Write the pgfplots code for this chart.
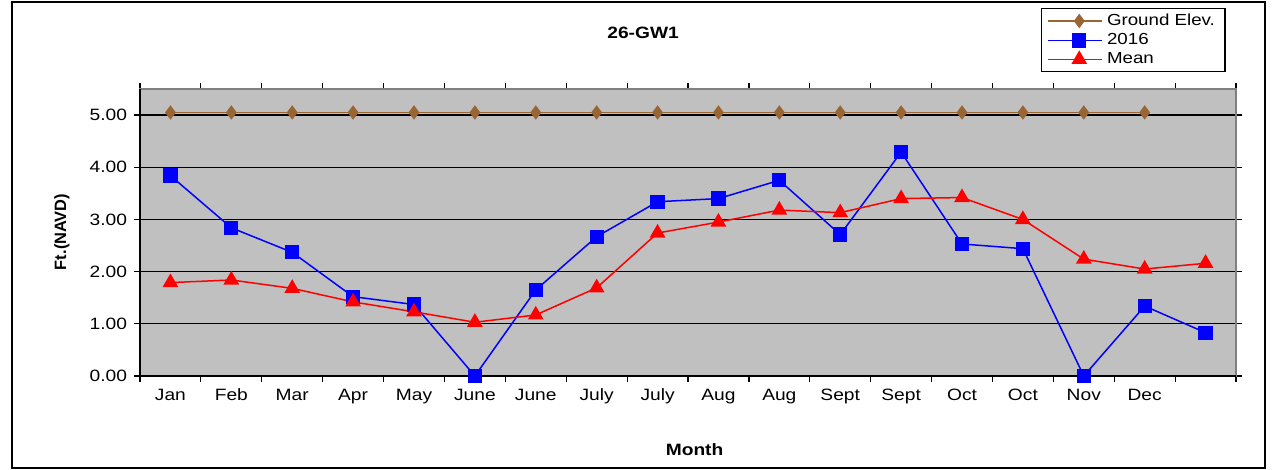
\documentclass[border=0pt]{standalone}
\usepackage{pgfplots}
\pgfplotsset{compat=1.18}
\usepackage{fontspec}
\setmainfont[FakeStretch=1.17]{Liberation Sans}
\newfontfamily\plainfont{Liberation Sans}
\definecolor{silver}{RGB}{192,192,192}
\definecolor{ground}{RGB}{153,102,51}
\begin{document}
\begin{tikzpicture}[x=1pt,y=1pt]
\path (0,0) rectangle (636,235);
\draw[line width=0.9pt] (6,1) rectangle (632.5,234);
\begin{axis}[
  at={(70pt,47pt)}, anchor=south west,
  scale only axis, width=548pt, height=143.5pt,
  xmin=-0.5, xmax=17.5, ymin=0, ymax=5.5,
  clip=false,
  font=\fontsize{8.2}{9.8}\selectfont,
  /pgf/number format/assume math mode=true,
  axis background/.style={fill=silver},
  axis line style={draw=gray, line width=0.8pt},
  xtick={0,...,17},
  xticklabels={Jan,Feb,Mar,Apr,May,June,June,July,July,Aug,Aug,Sept,Sept,Oct,Oct,Nov,Dec,{}},
  major x tick style={draw=none},
  minor xtick={-0.5,0.5,...,17.5},
  ytick={0,1,...,5},
  tick align=outside,
  major tick length=3pt, minor tick length=3pt,
  tick style={black, line width=0.6pt},
  yticklabel style={/pgf/number format/.cd, fixed, fixed zerofill, precision=2, assume math mode=true},
  ymajorgrids,
  major y grid style={black, line width=0.6pt},
  title={\textbf{26-GW1}},
  title style={at={(axis description cs:0.459,1.155)}, anchor=center},
  xlabel={\textbf{Month}},
  xlabel style={at={(axis description cs:0.506,-0.258)}, anchor=center},
  ylabel={\plainfont\bfseries Ft.(NAVD)},
  ylabel style={at={(axis description cs:-0.0712,0.502)}, anchor=center},
  legend style={at={(axis description cs:0.822,1.282)}, anchor=north west,
    draw=black, line width=0.6pt, font=\fontsize{8}{9.6}\selectfont,
    row sep=-1.5pt, inner xsep=3pt, inner ysep=0.5pt},
  legend cell align=left,
  legend image code/.code={\path (0pt,0pt) -- (27pt,0pt); \draw[mark repeat=2,mark phase=2] plot coordinates {(4pt,0pt) (15.5pt,0pt) (27pt,0pt)};},
]
\addplot[color=ground, line width=0.75pt, mark=diamond*, mark size=3pt, mark options={fill=ground, draw=ground}]
  coordinates {(0,5.05) (1,5.05) (2,5.05) (3,5.05) (4,5.05) (5,5.05) (6,5.05) (7,5.05) (8,5.05)
               (9,5.05) (10,5.05) (11,5.05) (12,5.05) (13,5.05) (14,5.05) (15,5.05) (16,5.05)};
\addlegendentry{Ground Elev.}
\addplot[color=blue, line width=0.75pt, mark=square*, mark size=3.2pt, mark options={fill=blue, draw=blue}]
  coordinates {(0,3.84) (1,2.84) (2,2.37) (3,1.52) (4,1.37) (5,0.00) (6,1.65) (7,2.67) (8,3.34)
               (9,3.40) (10,3.75) (11,2.71) (12,4.29) (13,2.53) (14,2.44) (15,0.00) (16,1.34) (17,0.83)};
\addlegendentry{2016}
\addplot[color=red, line width=0.75pt, mark=triangle*, mark size=3.8pt, mark options={fill=red, draw=red}]
  coordinates {(0,1.79) (1,1.84) (2,1.68) (3,1.42) (4,1.23) (5,1.03) (6,1.17) (7,1.69) (8,2.74)
               (9,2.95) (10,3.18) (11,3.13) (12,3.40) (13,3.42) (14,3.00) (15,2.24) (16,2.05) (17,2.16)};
\addlegendentry{Mean}
\draw[black, line width=0.8pt] (rel axis cs:0,1) -- (rel axis cs:0,0) -- (rel axis cs:1,0);
\end{axis}
\end{tikzpicture}
\end{document}
